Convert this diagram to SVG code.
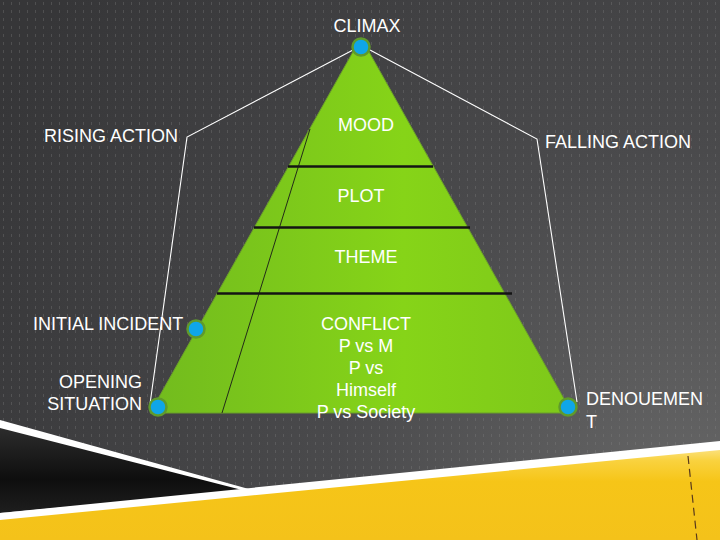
<svg xmlns="http://www.w3.org/2000/svg" width="720" height="540" viewBox="0 0 720 540">
<defs>
<radialGradient id="bg" cx="700" cy="520" r="820" gradientUnits="userSpaceOnUse">
<stop offset="0" stop-color="#686868"/>
<stop offset="0.45" stop-color="#4a4a4c"/>
<stop offset="1" stop-color="#363638"/>
</radialGradient>
<pattern id="dots" width="8" height="8" patternUnits="userSpaceOnUse">
<rect x="3" y="2" width="1" height="3" fill="#8a8a8a" opacity="0.3"/>
</pattern>
<linearGradient id="green" x1="0" y1="0" x2="1" y2="0">
<stop offset="0" stop-color="#72bb1e"/>
<stop offset="0.6" stop-color="#86d418"/>
<stop offset="1" stop-color="#7ec81a"/>
</linearGradient>
<linearGradient id="blk" x1="0" y1="428" x2="0" y2="513" gradientUnits="userSpaceOnUse">
<stop offset="0" stop-color="#2c2c2c"/>
<stop offset="0.6" stop-color="#0e0e0e"/>
<stop offset="1" stop-color="#1e1e1e"/>
</linearGradient>
<linearGradient id="yel" x1="0" y1="450" x2="0" y2="540" gradientUnits="userSpaceOnUse">
<stop offset="0" stop-color="#fbe07a"/>
<stop offset="0.12" stop-color="#f9d23e"/>
<stop offset="0.35" stop-color="#f6c518"/>
<stop offset="1" stop-color="#f4c21a"/>
</linearGradient>
<style>
.t{font-family:"Liberation Sans",Arial,sans-serif;font-size:18px;fill:#ffffff}
.w{fill:none;stroke:#ffffff;stroke-width:1.1}
.sec{stroke:#141414;stroke-width:2.5}
.dot{fill:#0fa6e8;stroke:#5f9a2c;stroke-width:2.5}
</style>
</defs>
<rect width="720" height="540" fill="url(#bg)"/>
<rect width="720" height="540" fill="url(#dots)"/>

<g id="bottom-decor">
<polygon points="0,420 260,492 0,513" fill="#ffffff"/>
<polygon points="0,428 246,491 0,513" fill="url(#blk)"/>
<polygon points="0,513 720,441 720,540 0,540" fill="#ffffff"/>
<polygon points="0,520 720,450 720,540 0,540" fill="url(#yel)"/>
<line x1="688" y1="456" x2="697" y2="540" stroke="#5a3a1c" stroke-width="1.2" stroke-dasharray="8,5"/>
</g>

<g id="pyramid">
<polygon points="354,50 368,50 572,413 150,413" fill="url(#green)" stroke="#6a9e2a" stroke-width="1"/>
<line class="sec" x1="288" y1="166.5" x2="433" y2="166.5"/>
<line class="sec" x1="254" y1="227.5" x2="470" y2="227.5"/>
<line class="sec" x1="217" y1="293.5" x2="512" y2="293.5"/>
<line x1="310" y1="129" x2="222" y2="413" stroke="#1a1a1a" stroke-width="0.9"/>
</g>

<g id="connectors">
<polyline class="w" points="353,50 187,137 150,404"/>
<polyline class="w" points="370,50 537,139 577,402"/>
</g>

<g id="climax"><circle class="dot" cx="361" cy="47" r="8.5"/><text class="t" x="367" y="32" text-anchor="middle">CLIMAX</text></g>
<g id="rising-action"><text class="t" x="44" y="142">RISING ACTION</text></g>
<g id="mood"><text class="t" x="366" y="131" text-anchor="middle">MOOD</text></g>
<g id="falling-action"><text class="t" x="545" y="148">FALLING ACTION</text></g>
<g id="plot"><text class="t" x="361" y="202" text-anchor="middle">PLOT</text></g>
<g id="theme"><text class="t" x="366" y="263" text-anchor="middle">THEME</text></g>
<g id="initial-incident"><circle class="dot" cx="196" cy="329" r="8.5"/><text class="t" x="33" y="330">INITIAL INCIDENT</text></g>
<g id="opening-situation"><circle class="dot" cx="158" cy="407" r="8.5"/><text class="t" x="142" y="388" text-anchor="end">OPENING</text><text class="t" x="142" y="410" text-anchor="end">SITUATION</text></g>
<g id="conflict"><text class="t" text-anchor="middle"><tspan x="366" y="330">CONFLICT</tspan><tspan x="366" y="352">P vs M</tspan><tspan x="366" y="374">P vs</tspan><tspan x="366" y="396">Himself</tspan><tspan x="366" y="418">P vs Society</tspan></text></g>
<g id="denouement"><circle class="dot" cx="568" cy="407" r="8.5"/><text class="t" x="586" y="405">DENOUEMEN</text><text class="t" x="586" y="428">T</text></g>
</svg>
